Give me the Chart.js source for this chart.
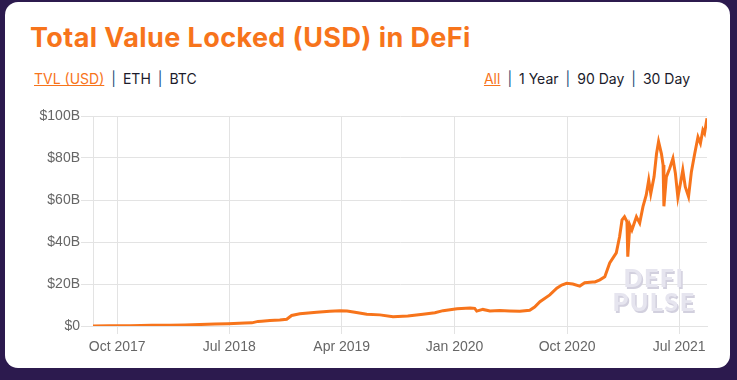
<!DOCTYPE html>
<html>
<head>
<meta charset="utf-8">
<script src="https://cdn.jsdelivr.net/npm/chart.js@4/dist/chart.umd.min.js"></script>
<style>
  html, body { margin: 0; padding: 0; }
  body { width: 737px; height: 380px; background: #2c1a4e; position: relative; overflow: hidden; font-family: Inter, "Noto Sans", sans-serif; }
  #card { position: absolute; left: 5px; top: 2px; width: 725px; height: 366px; background: #fff; border-radius: 13px; }
  #title { position: absolute; left: 30px; top: 21px; font-size: 27px; font-weight: 700; color: #f7741b; white-space: nowrap; letter-spacing: 0.4px; }
  .links { position: absolute; top: 70px; font-size: 14px; color: #1b1b2b; white-space: nowrap; }
  .links .on { color: #f7741b; text-decoration: underline; }
  .links .sep { color: #1d4f7c; margin: 0 7px; }
  #left { left: 34px; }
  #right { right: 47px; }
  #wrap { position: absolute; left: 20px; top: 100px; width: 700px; height: 265px; }
  #wm { position: absolute; left: 608px; top: 265px; width: 92px; text-align: center; font-family: Lato, "Open Sans", sans-serif; font-weight: 900; font-size: 25px; line-height: 24px; color: #e6e5ef; letter-spacing: 1.5px; text-shadow: 1.5px 1.5px 0 #d2d0de; pointer-events: none; }
</style>
</head>
<body>
<div id="card"></div>
<div id="title">Total Value Locked (USD) in DeFi</div>
<div class="links" id="left"><span class="on">TVL (USD)</span><span class="sep">|</span>ETH<span class="sep">|</span>BTC</div>
<div class="links" id="right"><span class="on">All</span><span class="sep">|</span>1 Year<span class="sep">|</span>90 Day<span class="sep">|</span>30 Day</div>
<div id="wrap"><canvas id="c"></canvas></div>
<div id="wm">DEFI<br>PULSE</div>
<script>
const dates = [
  '2017-08-03','2017-09-13','2017-11-01','2017-12-24','2018-02-06','2018-03-15','2018-04-20','2018-05-27',
  '2018-06-28','2018-08-08','2018-08-25','2018-09-09','2018-09-18','2018-10-08','2018-11-01','2018-11-18',
  '2018-11-30','2018-12-20','2019-01-30','2019-03-03','2019-03-28','2019-04-14','2019-05-03','2019-06-01',
  '2019-07-03','2019-08-04','2019-09-09','2019-10-16','2019-11-14','2019-12-04','2020-01-07','2020-02-08',
  '2020-02-19','2020-02-24','2020-03-10','2020-03-27','2020-04-20','2020-05-14','2020-06-08','2020-07-02',
  '2020-07-14','2020-07-27','2020-08-20','2020-09-06','2020-09-18','2020-09-30','2020-10-15','2020-11-01',
  '2020-11-13','2020-12-03','2020-12-08','2020-12-20','2021-01-01','2021-01-13','2021-01-29','2021-02-06',
  '2021-02-12','2021-02-18','2021-02-24','2021-02-26','2021-03-03','2021-03-08','2021-03-19','2021-03-27',
  '2021-04-04','2021-04-12','2021-04-18','2021-04-23','2021-05-01','2021-05-07','2021-05-12','2021-05-19',
  '2021-05-23','2021-05-25','2021-05-31','2021-06-08','2021-06-16','2021-06-22','2021-06-28','2021-07-05',
  '2021-07-10','2021-07-16','2021-07-24','2021-07-31','2021-08-08','2021-08-16','2021-08-22','2021-08-28',
  '2021-09-01','2021-09-07'
];
const tvlBillions = [
  0.05, 0.1, 0.15, 0.3, 0.4, 0.5, 0.7, 0.9,
  1.1, 1.4, 1.5, 2.2, 2.3, 2.6, 2.9, 3.2,
  5.0, 5.8, 6.5, 7.0, 7.3, 7.1, 6.5, 5.6,
  5.3, 4.4, 4.8, 5.6, 6.3, 7.3, 8.2, 8.6,
  8.4, 7.1, 7.9, 7.2, 7.4, 7.2, 7.0, 7.5,
  9.0, 11.6, 14.8, 18, 19.5, 20.3, 20, 19,
  20.6, 21, 21, 22, 23.5, 30, 34.8, 42.5,
  50.5, 52, 49.7, 33, 48, 45.7, 52, 49,
  56.8, 62.4, 69.5, 63, 71, 82, 87.8, 82,
  76.7, 57, 71, 75, 79.8, 72.7, 61.3, 68.7,
  74.3, 66.3, 61.6, 73.5, 82, 90, 87, 93.3,
  91.8, 98.9
];
const xTickDates = ['2017-10-01','2018-07-01','2019-04-01','2020-01-01','2020-10-01','2021-07-01'];
const xTickLabels = ['Oct 2017','Jul 2018','Apr 2019','Jan 2020','Oct 2020','Jul 2021'];
const yTickValues = [0, 20, 40, 60, 80, 100];
const yTickLabels = ['$0','$20B','$40B','$60B','$80B','$100B'];

const toDay = s => Date.parse(s) / 86400000;
const points = dates.map((d, i) => ({ x: toDay(d), y: tvlBillions[i] }));
const xTicks = xTickDates.map(toDay);

const gridColor = '#e3e3e3';
new Chart(document.getElementById('c'), {
  type: 'line',
  data: { datasets: [{ data: points, borderColor: '#f7741b', borderWidth: 3, pointRadius: 0, tension: 0, fill: false }] },
  options: {
    responsive: true, maintainAspectRatio: false, animation: false,
    layout: { padding: { top: 16, right: 13, bottom: 0, left: 0 } },
    plugins: { legend: { display: false }, tooltip: { enabled: false } },
    scales: {
      x: {
        type: 'linear', min: points[0].x, max: points[points.length - 1].x,
        afterBuildTicks: s => { s.ticks = xTicks.map(v => ({ value: v })); },
        afterFit: s => { s.height = 39; },
        grid: { color: gridColor, tickLength: 8 },
        border: { color: gridColor },
        ticks: { color: '#666', padding: 5, maxRotation: 0, autoSkip: false,
          font: { family: 'Liberation Sans, Arial, sans-serif', size: 14 },
          callback: v => { const i = xTicks.indexOf(v); return i >= 0 ? xTickLabels[i] : ''; } }
      },
      y: {
        min: 0, max: 100,
        afterBuildTicks: s => { s.ticks = yTickValues.map(v => ({ value: v })); },
        afterFit: s => { s.width = 73; },
        grid: { color: gridColor, tickLength: 12 },
        border: { color: gridColor },
        ticks: { color: '#666', padding: 1,
          font: { family: 'Liberation Sans, Arial, sans-serif', size: 14 },
          callback: v => { const i = yTickValues.indexOf(v); return i >= 0 ? yTickLabels[i] : ''; } }
      }
    }
  }
});
</script>
</body>
</html>
